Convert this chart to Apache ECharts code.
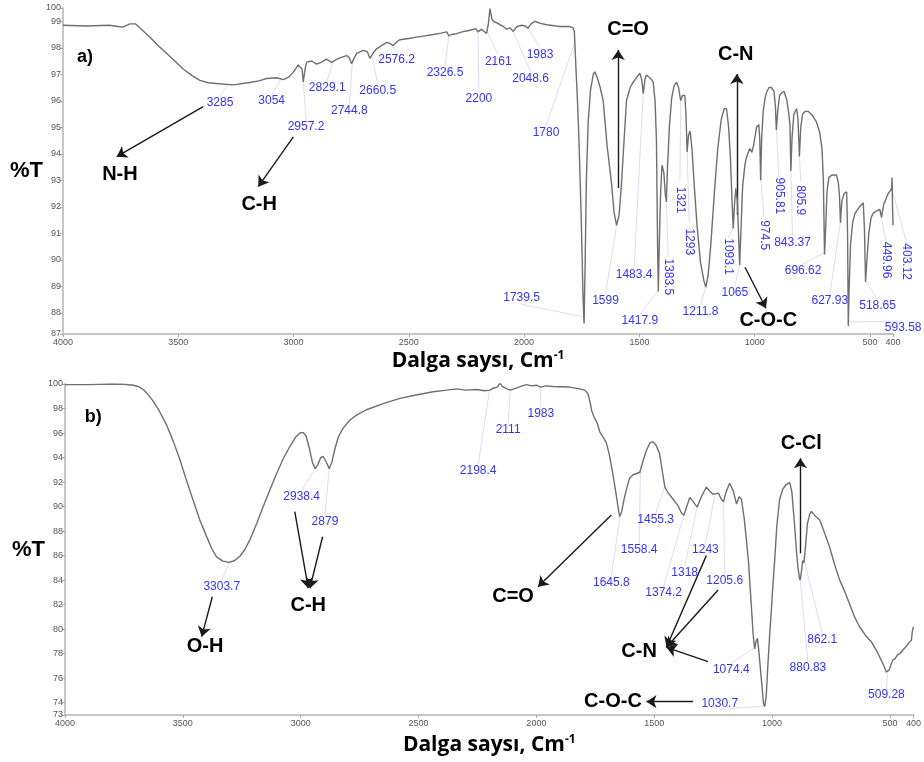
<!DOCTYPE html>
<html>
<head>
<meta charset="utf-8">
<script src="https://cdn.jsdelivr.net/npm/echarts@6/dist/echarts.min.js"></script>
<style>html,body{margin:0;background:#fff}#main{width:924px;height:762px}</style>
</head>
<body>
<div id="main"></div>
<script>
// spektrum a) : [dalga sayisi, %T]
const specA = [[4000,98.85],[3900,98.82],[3800,98.85],[3760,98.8],[3740,98.78],[3710,98.9],[3685,98.9],[3660,98.7],[3623,98.4],[3590,98.1],[3550,97.78],[3515,97.5],[3479,97.2],[3440,96.95],[3406,96.77],[3370,96.68],[3334,96.65],[3262,96.6],[3189,96.69],[3150,96.75],[3117,96.84],[3073,96.87],[3044,96.8],[3020,96.9],[3000,97.09],[2980,97.35],[2972,97.4],[2963,97.2],[2958,96.71],[2950,97.2],[2943,97.46],[2921,97.5],[2900,97.38],[2880,97.45],[2857,97.57],[2835,97.45],[2815,97.55],[2799,97.62],[2770,97.7],[2760,97.65],[2748,97.4],[2738,97.6],[2726,97.79],[2698,97.9],[2680,97.85],[2669,97.6],[2655,97.8],[2640,97.96],[2615,98.1],[2596,98.2],[2580,98.15],[2568,98.08],[2555,98.2],[2539,98.3],[2500,98.35],[2466,98.4],[2430,98.45],[2394,98.5],[2360,98.55],[2336,98.6],[2326,98.45],[2315,98.5],[2293,98.53],[2269,98.6],[2240,98.65],[2210,98.72],[2200,98.6],[2185,98.7],[2163,98.54],[2155,98.9],[2148,99.48],[2140,99.1],[2134,99.0],[2120,98.95],[2105,98.87],[2090,98.8],[2076,98.7],[2060,98.75],[2048,98.62],[2030,98.8],[2011,98.85],[1995,98.82],[1983,98.74],[1970,98.9],[1953,99.0],[1930,98.92],[1902,98.87],[1870,98.83],[1845,98.8],[1820,98.8],[1801,98.8],[1788,98.75],[1782,98.6],[1778,97.8],[1775,97.2],[1770,96.3],[1762,94.5],[1752,91.5],[1745,88.8],[1740,87.6],[1735,90],[1730,93],[1722,95.2],[1712,96.4],[1700,97.0],[1693,97.09],[1682,96.85],[1670,96.5],[1657,96.0],[1640,94.3],[1621,92.9],[1610,91.8],[1599,91.3],[1588,91.7],[1578,92.8],[1570,94.0],[1556,96.0],[1540,96.5],[1527,96.7],[1510,96.9],[1498,97.04],[1490,96.8],[1483,96.27],[1476,96.8],[1470,96.97],[1462,96.97],[1452,96.85],[1440,96.7],[1432,96.0],[1426,94.5],[1421,90.5],[1418,88.8],[1414,90.5],[1408,92.5],[1402,93.57],[1394,93.3],[1388,92.5],[1383,92.18],[1378,93.5],[1370,95.0],[1360,96.1],[1350,96.55],[1339,96.7],[1330,96.5],[1321,96.0],[1313,96.2],[1303,96.2],[1298,95.5],[1293,94.07],[1287,94.7],[1280,94.86],[1272,94.2],[1262,92.8],[1250,91.3],[1235,89.9],[1220,89.2],[1212,88.97],[1202,89.4],[1190,90.6],[1175,92.5],[1160,94.2],[1145,95.3],[1132,95.7],[1122,95.7],[1113,95.0],[1105,93.8],[1098,92.2],[1093,91.18],[1088,92.0],[1082,92.7],[1075,92.2],[1068,90.5],[1065,89.8],[1060,91.0],[1052,92.8],[1042,93.6],[1035,93.88],[1021,94.2],[1012,94.05],[1005,94.3],[992,95.0],[982,95.1],[978,94.6],[974,93.0],[970,94.5],[963,95.6],[955,96.1],[949,96.3],[938,96.5],[927,96.5],[916,96.35],[910,95.8],[906,94.9],[900,95.6],[892,96.2],[883,96.3],[872,96.35],[860,96.0],[852,95.5],[847,95.1],[843,93.35],[838,94.6],[830,95.5],[818,95.7],[812,95.3],[806,93.9],[800,95.0],[792,95.5],[780,95.6],[768,95.6],[750,95.45],[732,95.2],[718,94.8],[708,94.2],[702,93.0],[697,90.2],[692,91.2],[686,92.6],[678,93.1],[667,93.19],[655,93.2],[645,93.2],[637,92.9],[632,92.4],[628,91.4],[622,92.2],[612,92.5],[601,92.56],[597,91],[594,87.5],[590,89],[584,90.6],[575,91.4],[565,91.75],[545,92.0],[529,92.15],[524,91.2],[519,89.16],[513,90.0],[505,91.0],[495,91.6],[486,91.75],[470,91.85],[457,91.9],[450,91.6],[440,92.1],[430,92.3],[421,92.5],[412,92.6],[406,92.7],[404,93.1],[402,92.0],[400,91.3]];

// spektrum b)
const specB = [[4000,99.95],[3900,99.95],[3800,100],[3750,99.98],[3710,99.9],[3690,99.8],[3668,99.55],[3650,99.2],[3626,98.6],[3600,97.8],[3569,96.66],[3540,95.3],[3512,93.8],[3484,92.1],[3456,90.5],[3428,88.9],[3399,87.55],[3378,86.6],[3357,85.9],[3330,85.55],[3304,85.45],[3280,85.6],[3258,85.95],[3237,86.5],[3215,87.3],[3187,88.6],[3159,90.0],[3130,91.4],[3102,92.7],[3074,93.9],[3046,94.9],[3020,95.7],[3003,96.0],[2990,96.05],[2978,95.8],[2965,94.9],[2950,93.6],[2938,93.1],[2928,93.4],[2915,94.0],[2905,94.1],[2893,93.7],[2879,93.1],[2868,93.6],[2855,94.7],[2840,95.7],[2820,96.4],[2791,97.06],[2760,97.5],[2721,97.9],[2650,98.4],[2579,98.83],[2510,99.1],[2438,99.37],[2380,99.5],[2339,99.6],[2300,99.5],[2254,99.55],[2220,99.45],[2198,99.5],[2184,99.65],[2165,99.75],[2155,100.1],[2145,99.8],[2125,99.6],[2111,99.5],[2080,99.7],[2060,99.85],[2042,99.95],[2020,99.85],[2000,99.9],[1983,99.75],[1960,99.85],[1930,99.8],[1901,99.78],[1860,99.75],[1816,99.6],[1795,99.5],[1781,99.2],[1772,98.5],[1765,97.8],[1755,97.3],[1742,96.8],[1731,96.1],[1715,95.6],[1703,95.2],[1690,94.2],[1675,92.6],[1660,90.8],[1650,89.5],[1646,89.2],[1638,89.6],[1628,90.6],[1618,91.4],[1605,92.3],[1590,92.6],[1575,92.7],[1561,92.8],[1548,93.7],[1533,94.6],[1518,95.2],[1505,95.3],[1492,95.0],[1477,94.3],[1465,92.8],[1455,91.6],[1440,91.1],[1420,90.6],[1400,90.1],[1385,89.5],[1374,89.3],[1362,90.0],[1349,90.75],[1335,90.4],[1318,89.95],[1300,90.8],[1279,91.6],[1262,91.2],[1250,91.0],[1243,90.9],[1228,91.1],[1215,90.6],[1206,90.4],[1195,91.2],[1180,91.9],[1165,91.3],[1151,90.2],[1140,90.8],[1130,90.6],[1118,89.0],[1109,87.3],[1100,85.5],[1090,82.5],[1080,79.5],[1074,78.4],[1068,79.0],[1062,79.25],[1055,78.0],[1045,75.8],[1036,73.9],[1031,73.7],[1025,74.5],[1018,77.0],[1010,79.6],[1003,81.6],[995,84.0],[989,85.6],[980,88.4],[968,90.6],[955,91.4],[940,91.8],[925,91.95],[916,91.2],[911,90.0],[905,88.6],[897,86.5],[890,85.0],[884,84.2],[881,84.0],[876,84.6],[870,85.6],[865,85.4],[862,85.5],[857,87.0],[850,88.6],[840,89.4],[833,89.6],[820,89.3],[798,88.9],[780,88.0],[756,86.7],[735,85.3],[713,84.0],[690,83.0],[670,82.0],[650,81.0],[629,80.2],[600,79.4],[580,79.0],[558,78.3],[540,77.6],[525,77.0],[515,76.5],[509,76.4],[502,76.7],[494,77.2],[487,77.5],[478,77.6],[468,77.9],[458,78.0],[445,78.3],[430,78.6],[420,78.9],[409,79.1],[405,79.8],[400,80.2]];

const xTicks = [4000, 3500, 3000, 2500, 2000, 1500, 1000, 500, 400];
const yTicksA = [87.2, 88, 89, 90, 91, 92, 93, 94, 95, 96, 97, 98, 99, 99.5];
const yTicksB = [73, 74, 76, 78, 80, 82, 84, 86, 88, 90, 92, 94, 96, 98, 100];

// pik etiketleri: [pik, etiket x, etiket %T, metin, dikey]
const peaksA = [
  [3285, 3319, 95.92, '3285', 0], [3054, 3095, 95.99, '3054', 0], [2957.2, 2946, 95.01, '2957.2', 0],
  [2829.1, 2854, 96.51, '2829.1', 0], [2744.8, 2758, 95.61, '2744.8', 0], [2660.5, 2635, 96.38, '2660.5', 0],
  [2576.2, 2553, 97.56, '2576.2', 0], [2326.5, 2343, 97.05, '2326.5', 0], [2200, 2196, 96.09, '2200', 0],
  [2161, 2112, 97.47, '2161', 0], [2048.6, 1972, 96.85, '2048.6', 0], [1983, 1931, 97.75, '1983', 0],
  [1780, 1905, 94.81, '1780', 0], [1739.5, 2011, 88.57, '1739.5', 0], [1599, 1647, 88.45, '1599', 0],
  [1483.4, 1523, 89.42, '1483.4', 0], [1417.9, 1498, 87.7, '1417.9', 0], [1383.5, 1375, 89.36, '1383.5', 1],
  [1321, 1324, 92.25, '1321', 1], [1293, 1284, 90.68, '1293', 1], [1211.8, 1235, 88.04, '1211.8', 0],
  [1093.1, 1115, 90.12, '1093.1', 1], [1065, 1086, 88.77, '1065', 0], [974.5, 960, 90.93, '974.5', 1],
  [905.81, 895, 92.41, '905.81', 1], [843.37, 836, 90.66, '843.37', 0], [805.9, 800, 92.25, '805.9', 1],
  [696.62, 790, 89.59, '696.62', 0], [627.93, 674, 88.44, '627.93', 0], [593.58, 356, 87.44, '593.58', 0],
  [518.65, 467, 88.25, '518.65', 0], [449.96, 431, 89.99, '449.96', 1], [403.12, 341, 89.93, '403.12', 1]
];
const peaksB = [
  [3303.7, 3335, 83.47, '3303.7', 0], [2938.4, 2996, 90.81, '2938.4', 0], [2879, 2897, 88.77, '2879', 0],
  [2198.4, 2247, 92.93, '2198.4', 0], [2111, 2120, 96.25, '2111', 0], [1983, 1981, 97.61, '1983', 0],
  [1645.8, 1682, 83.79, '1645.8', 0], [1558.4, 1564, 86.46, '1558.4', 0], [1455.3, 1494, 88.91, '1455.3', 0],
  [1374.2, 1460, 82.98, '1374.2', 0], [1318, 1371, 84.61, '1318', 0], [1243, 1283, 86.46, '1243', 0],
  [1205.6, 1201, 83.93, '1205.6', 0], [1074.4, 1173, 76.73, '1074.4', 0], [1030.7, 1222, 73.96, '1030.7', 0],
  [880.83, 848, 76.89, '880.83', 0], [862.1, 787, 79.18, '862.1', 0], [509.28, 515, 74.63, '509.28', 0]
];

// grup etiketleri: [x, %T, metin]
const bandsA = [[3905, 97.66, 'a)'], [3753, 93.2, 'N-H'], [3149, 92.07, 'C-H'], [1549, 98.7, 'C=O'], [1082, 97.75, 'C-N'], [941, 87.7, 'C-O-C']];
const bandsB = [[3880, 97.33, 'b)'], [2968, 81.97, 'C-H'], [3406, 78.57, 'O-H'], [2099, 82.65, 'C=O'], [1564, 78.16, 'C-N'], [1675, 74.09, 'C-O-C'], [876, 95.16, 'C-Cl']];

// oklar: [[baslangic], [uc]]
const arrowsA = [
  [[3392, 95.78], [3767, 93.89]], [[3001, 94.64], [3153, 92.76]], [[1592, 92.71], [1592, 97.92]],
  [[1077, 91.69], [1077, 97.01]], [[1042, 89.72], [951, 88.17]]
];
const arrowsB = [
  [[3025, 89.58], [2968, 83.34]], [[2907, 87.54], [2961, 83.34]], [[3375, 82.65], [3420, 79.39]],
  [[1682, 89.31], [1993, 83.47]], [[1279, 86.0], [1448, 78.52]], [[1229, 83.2], [1448, 78.52]],
  [[1272, 77.35], [1448, 78.52]], [[1335, 74.09], [1533, 74.09]], [[880, 86.19], [880, 93.94]]
];

function interp(spec, wn) {
  for (let i = 0; i < spec.length - 1; i++) {
    const [x0, y0] = spec[i], [x1, y1] = spec[i + 1];
    if (wn <= x0 && wn >= x1) return y0 + (y1 - y0) * (x0 - wn) / (x0 - x1);
  }
  return spec[spec.length - 1][1];
}

const FONT = 'Liberation Sans';

function panel(i, spec, peaks, bands, arrows, gap, gapRot) {
  const ax = { xAxisIndex: i, yAxisIndex: i };
  return [
    Object.assign({ type: 'line', data: spec, showSymbol: false, silent: true,
      lineStyle: { color: '#6f6f6f', width: 1.4 } }, ax),
    Object.assign({ type: 'lines', coordinateSystem: 'cartesian2d', silent: true, clip: false,
      lineStyle: { color: '#cdcdf5', width: 0.7, opacity: 1 },
      data: peaks.map(([pk, lx, ly, , rot]) => {
        const py = interp(spec, pk);
        const g = rot ? gapRot : gap;
        return { coords: [[pk, py], [lx, ly + (py > ly ? g : -g)]] };
      }) }, ax),
    Object.assign({ type: 'lines', coordinateSystem: 'cartesian2d', silent: true, clip: false,
      symbol: ['none', 'arrow'], symbolSize: 10,
      lineStyle: { color: '#1a1a1a', width: 1.4, opacity: 1 },
      data: arrows.map(a => ({ coords: a })) }, ax),
    Object.assign({ type: 'scatter', silent: true, clip: false, symbolSize: 1,
      itemStyle: { color: 'transparent', opacity: 1 },
      label: { show: true, position: 'inside', formatter: '{b}', color: '#3434f2', fontSize: 12, fontFamily: FONT },
      data: peaks.map(([, lx, ly, t, rot]) => ({ value: [lx, ly], name: t, label: { rotate: rot ? -90 : 0 } })) }, ax),
    Object.assign({ type: 'scatter', silent: true, clip: false, symbolSize: 1,
      itemStyle: { color: 'transparent', opacity: 1 },
      label: { show: true, position: 'inside', formatter: '{b}', color: '#000', fontSize: 20, fontWeight: 'bold', fontFamily: FONT },
      data: bands.map(([x, y, t]) => ({ value: [x, y], name: t,
        label: t.endsWith(')') ? { fontSize: 18 } : {} })) }, ax)
  ];
}

function xAxis(i, gap) {
  return {
    type: 'value', gridIndex: i, min: 400, max: 4000, inverse: true,
    axisLine: { lineStyle: { color: '#c6c6c6', width: 2 } },
    axisTick: { customValues: xTicks, length: 3, lineStyle: { color: '#aaa' } },
    axisLabel: { customValues: xTicks, fontSize: 9, color: '#555', fontFamily: FONT, margin: 4, formatter: v => String(v) },
    splitLine: { show: false },
    name: '{t|Dalga saysı, Cm}{s|-1}', nameLocation: 'middle', nameGap: gap,
    nameTextStyle: { rich: {
      t: { fontSize: 21, fontWeight: 'bold', fontFamily: 'Open Sans', color: '#000' },
      s: { fontSize: 12, fontWeight: 'bold', fontFamily: 'Open Sans', color: '#000', padding: [0, 0, 11, 0] }
    } }
  };
}

function yAxis(i, min, max, ticks, fmt) {
  return {
    type: 'value', gridIndex: i, min: min, max: max,
    axisLine: { show: true, lineStyle: { color: '#c6c6c6', width: 2 } },
    axisTick: { show: true, customValues: ticks, length: 3, lineStyle: { color: '#aaa' } },
    axisLabel: { customValues: ticks, fontSize: 9, color: '#555', fontFamily: FONT, margin: 2, formatter: fmt },
    splitLine: { show: false },
    name: '%T', nameLocation: 'middle', nameRotate: 0, nameGap: 20, nameMoveOverlap: false,
    nameTextStyle: { fontSize: 22, fontWeight: 'bold', fontFamily: FONT, color: '#000' }
  };
}

const option = {
  animation: false,
  backgroundColor: '#fff',
  grid: [
    { left: 63, right: 31, top: 8, bottom: 428 },
    { left: 65, right: 10, top: 384, bottom: 47 }
  ],
  xAxis: [xAxis(0, 16), xAxis(1, 19)],
  yAxis: [
    yAxis(0, 87.2, 99.5, yTicksA, v => v === 87.2 ? '87' : v === 99.5 ? '100' : String(v)),
    yAxis(1, 73, 100, yTicksB, v => String(v))
  ],
  series: [].concat(
    panel(0, specA, peaksA, bandsA, arrowsA, 0.25, 0.7),
    panel(1, specB, peaksB, bandsB, arrowsB, 0.5, 1.5)
  )
};

const chart = echarts.init(document.getElementById('main'));
chart.setOption(option);
</script>
</body>
</html>
